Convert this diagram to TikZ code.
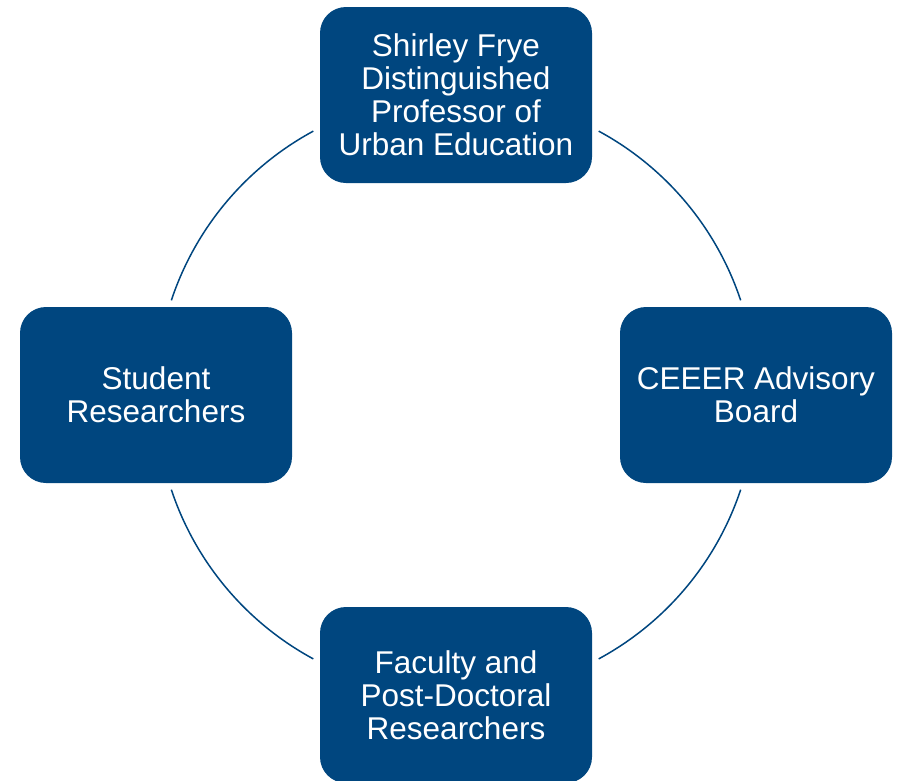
\documentclass[tikz,border=0pt]{standalone}
\usepackage{fontspec}
\setmainfont{Liberation Sans}
\definecolor{boxblue}{RGB}{0,70,127}
\begin{document}
\begin{tikzpicture}[x=1pt,y=-1pt,
  role/.style={fill=boxblue, draw=none, rounded corners=26pt, minimum width=272pt, minimum height=176pt,
    text=white, align=center, inner sep=0pt, font=\fontsize{31.5}{33}\selectfont},
  ring/.style={draw=boxblue, line width=1.5pt}]
\useasboundingbox (0,0) rectangle (902,780);
\coordinate (c) at (456,395);
\node[role] (top) at (456,95) {Shirley Frye\\Distinguished\\Professor of\\Urban Education};
\node[role] (right) at (756,395) {CEEER Advisory\\Board};
\node[role] (bottom) at (456,695) {Faculty  and\\Post-Doctoral\\Researchers};
\node[role] (left) at (156,395) {Student\\Researchers};
\draw[ring] ([shift={(18.4:300pt)}]c) arc[start angle=18.4, end angle=61.6, radius=300pt];
\draw[ring] ([shift={(118.4:300pt)}]c) arc[start angle=118.4, end angle=161.6, radius=300pt];
\draw[ring] ([shift={(198.4:300pt)}]c) arc[start angle=198.4, end angle=241.6, radius=300pt];
\draw[ring] ([shift={(298.4:300pt)}]c) arc[start angle=298.4, end angle=341.6, radius=300pt];
\end{tikzpicture}
\end{document}
